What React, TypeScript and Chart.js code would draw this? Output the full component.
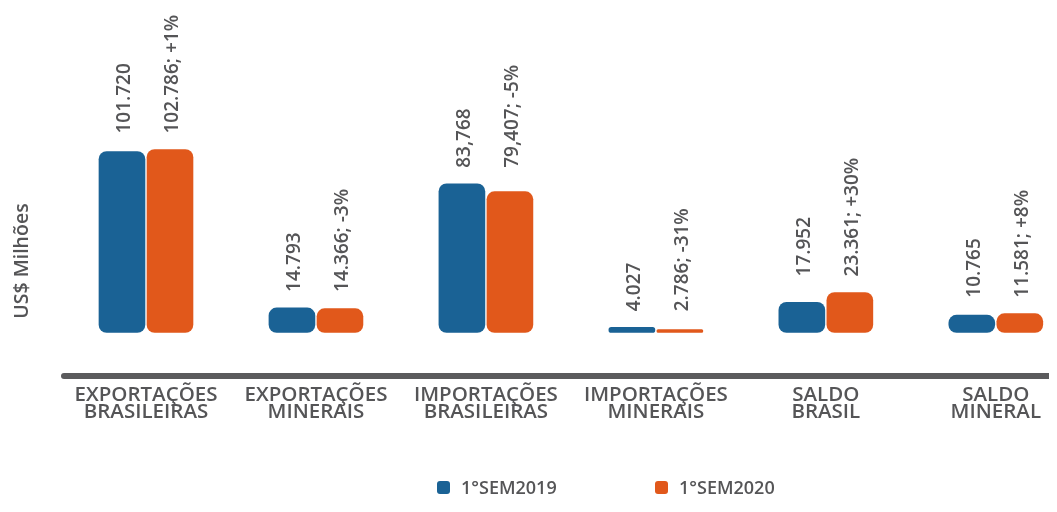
import React, { useEffect, useRef } from "react";
import { Chart, registerables } from "chart.js";

Chart.register(...registerables);

const categories: string[][] = [
  ["EXPORTAÇÕES", "BRASILEIRAS"],
  ["EXPORTAÇÕES", "MINERAIS"],
  ["IMPORTAÇÕES", "BRASILEIRAS"],
  ["IMPORTAÇÕES", "MINERAIS"],
  ["SALDO", "BRASIL"],
  ["SALDO", "MINERAL"],
];
const seriesNames = ["1°SEM2019", "1°SEM2020"];
const values2019 = [101720, 14793, 83768, 4027, 17952, 10765];
const values2020 = [102786, 14366, 79407, 2786, 23361, 11581];
const labels2019 = ["101.720", "14.793", "83,768", "4.027", "17.952", "10.765"];
const labels2020 = ["102.786; +1%", "14.366; -3%", "79,407; -5%", "2.786; -31%", "23.361; +30%", "11.581; +8%"];
const colors = ["#1a6295", "#e1581b"];
const yAxisTitle = "US$ Milhões";

const FONT = '"Open Sans", "DejaVu Sans", sans-serif';
const TEXT = "#555557";

const valueLabelPlugin = {
  id: "valueLabels",
  afterDatasetsDraw(chart: any) {
    const ctx = chart.ctx;
    const m0 = chart.getDatasetMeta(0).data;
    const m1 = chart.getDatasetMeta(1).data;
    const texts = [labels2019, labels2020];
    ctx.save();
    ctx.fillStyle = TEXT;
    ctx.font = `600 19px ${FONT}`;
    ctx.textAlign = "left";
    ctx.textBaseline = "middle";
    for (let i = 0; i < categories.length; i++) {
      const base = Math.min(m0[i].y, m1[i].y) - 15;
      [m0[i], m1[i]].forEach((bar: any, d: number) => {
        ctx.save();
        ctx.translate(bar.x + 3, base);
        ctx.rotate(-Math.PI / 2);
        ctx.fillText(texts[d][i], 0, 0);
        ctx.restore();
      });
    }
    ctx.restore();
  },
};

const axisLinePlugin = {
  id: "axisLine",
  afterDatasetsDraw(chart: any) {
    const { ctx, chartArea, width } = chart;
    ctx.save();
    ctx.strokeStyle = "#5b5b5d";
    ctx.lineWidth = 6;
    ctx.lineCap = "round";
    ctx.beginPath();
    ctx.moveTo(chartArea.left + 3, chartArea.bottom);
    ctx.lineTo(width + 10, chartArea.bottom);
    ctx.stroke();
    ctx.restore();
  },
};

export default function App() {
  const ref = useRef<HTMLCanvasElement>(null);
  useEffect(() => {
    if (!ref.current) return;
    const mk = (vals: number[]) => vals.map((v, i) => ({ x: i, y: v }));
    const chart = new Chart(ref.current, {
      type: "bar",
      data: {
        datasets: [
          { label: seriesNames[0], data: mk(values2019), backgroundColor: colors[0] },
          { label: seriesNames[1], data: mk(values2020), backgroundColor: colors[1] },
        ],
      },
      options: {
        responsive: false,
        animation: false,
        layout: { padding: { top: 146, left: 0, right: 0, bottom: 0 } },
        datasets: {
          bar: {
            barThickness: 48,
            borderRadius: 9,
            borderSkipped: false,
            borderWidth: 1,
            borderColor: "#ffffff",
            clip: false,
          } as any,
        },
        plugins: {
          legend: { display: false },
          tooltip: { enabled: false },
        },
        scales: {
          x: {
            type: "linear",
            offset: false,
            min: -0.5,
            max: 5.36,
            grid: { display: false, offset: false, drawTicks: false },
            border: { display: false },
            afterBuildTicks: (scale: any) => {
              scale.ticks = categories.map((_, i) => ({ value: i }));
            },
            afterFit: (scale: any) => {
              scale.height = 136;
              scale.paddingLeft = 0;
              scale.paddingRight = 0;
            },
            ticks: {
              autoSkip: false,
              maxRotation: 0,
              padding: 11,
              color: TEXT,
              font: { family: FONT, size: 20.5, weight: "600", lineHeight: 0.83 },
              callback: (v: any) => categories[Math.round(Number(v))] ?? "",
            },
          },
          y: {
            min: -23600,
            max: 104200,
            grid: { display: false, drawTicks: false },
            border: { display: false },
            ticks: { display: false },
            afterFit: (scale: any) => {
              scale.width = 61;
            },
            title: {
              display: true,
              text: yAxisTitle,
              color: TEXT,
              font: { family: FONT, size: 19.5, weight: "600", lineHeight: 1.2 },
              padding: { top: 11, bottom: 0 },
            },
          },
        },
      },
      plugins: [valueLabelPlugin, axisLinePlugin],
    });
    return () => chart.destroy();
  }, []);

  const legendLefts = [437, 655];
  return (
    <div style={{ margin: "-8px", position: "relative", width: 1057, height: 512, overflow: "hidden", background: "#fff" }}>
      <canvas ref={ref} width={1057} height={512} style={{ display: "block", width: 1057, height: 512 }} />
      {seriesNames.map((name, i) => (
        <div
          key={name}
          style={{
            position: "absolute",
            left: legendLefts[i],
            top: 477,
            height: 20,
            display: "flex",
            alignItems: "center",
            fontFamily: FONT,
            fontWeight: 600,
            fontSize: 18,
            color: TEXT,
            whiteSpace: "nowrap",
          }}
        >
          <span style={{ width: 13, height: 13, borderRadius: 3, background: colors[i], display: "inline-block", marginRight: 11 }} />
          <span>{name}</span>
        </div>
      ))}
    </div>
  );
}
